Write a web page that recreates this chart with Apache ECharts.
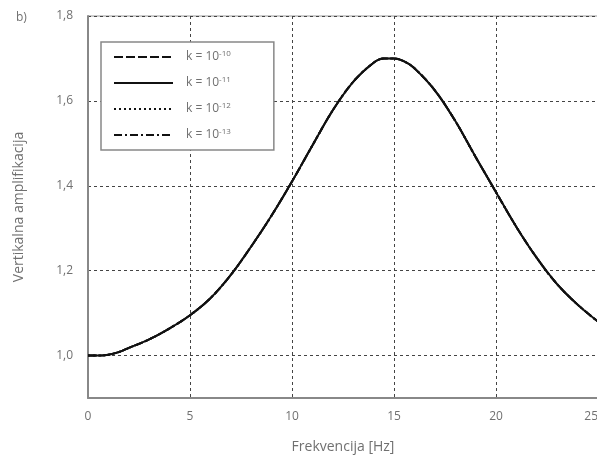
<!DOCTYPE html>
<html>
<head>
<meta charset="utf-8">
<script src="https://cdn.jsdelivr.net/npm/echarts@6/dist/echarts.min.js"></script>
<style>html,body{margin:0;padding:0;background:#fff}#c{width:597px;height:456px}</style>
</head>
<body>
<div id="c"></div>
<script>
// Frequency [Hz]
var freq = [0, 0.5, 1, 1.5, 2, 3, 4, 5, 6, 7, 8, 9, 10, 11, 12, 13, 14, 14.5, 15, 15.5, 16, 17, 18, 19, 20, 21, 22, 23, 24, 25];
// Vertical amplification (the four k curves coincide in the picture)
var amp_k10 = [1.0, 1.0, 1.002, 1.008, 1.018, 1.038, 1.064, 1.095, 1.135, 1.19, 1.257, 1.33, 1.41, 1.495, 1.578, 1.645, 1.69, 1.70, 1.70, 1.693, 1.677, 1.625, 1.553, 1.468, 1.385, 1.303, 1.23, 1.168, 1.12, 1.08];
var amp_k11 = amp_k10.slice();
var amp_k12 = amp_k10.slice();
var amp_k13 = amp_k10.slice();
var seriesNames = ['k = 10-10', 'k = 10-11', 'k = 10-12', 'k = 10-13'];
var exponents = ['-10', '-11', '-12', '-13'];
var xTicks = [0, 5, 10, 15, 20, 25];

function pairs(ys) { return freq.map(function (x, i) { return [x, ys[i]]; }); }

var textColor = '#707070';
var fontFam = '"Open Sans", "Noto Sans", sans-serif';
var styles = [
  { type: [9, 3], z: 2 },
  { type: 'solid', z: 5 },
  { type: [2, 3], z: 3 },
  { type: [8, 3, 2, 3], z: 4 }
];
var ampData = [amp_k10, amp_k11, amp_k12, amp_k13];

var chart = echarts.init(document.getElementById('c'), null, { renderer: 'canvas' });
chart.setOption({
  animation: false,
  backgroundColor: '#fff',
  title: {
    text: 'b)', left: 11, top: 7,
    textStyle: { fontSize: 12, fontWeight: 'normal', color: textColor, fontFamily: fontFam }
  },
  grid: { left: 88, top: 16, width: 510, height: 382, show: true, borderColor: '#999', borderWidth: 1,
    containLabel: false, outerBoundsMode: 'none' },
  legend: {
    orient: 'vertical', left: 101, top: 42,
    padding: [8, 43, 8, 12],
    itemGap: 12, itemWidth: 59, itemHeight: 14,
    borderColor: '#888', borderWidth: 1.5, backgroundColor: '#fff',
    itemStyle: { opacity: 0 },
    data: seriesNames,
    formatter: function (name) {
      var i = seriesNames.indexOf(name);
      return '{n|k = 10}{s|' + exponents[i] + '}';
    },
    textStyle: {
      color: textColor, fontFamily: fontFam, padding: [0, 0, 0, 8],
      rich: {
        n: { fontSize: 12, color: textColor, fontFamily: fontFam, lineHeight: 14 },
        s: { fontSize: 8, color: textColor, fontFamily: fontFam, verticalAlign: 'top', lineHeight: 14, padding: [0, 0, 6, 0] }
      }
    }
  },
  xAxis: {
    type: 'value', min: 0, max: 25, interval: 5,
    name: 'Frekvencija [Hz]', nameLocation: 'middle', nameGap: 42,
    nameTextStyle: { fontSize: 14, color: textColor, fontFamily: fontFam },
    axisLine: { show: true, onZero: false, lineStyle: { color: '#888', width: 2 } },
    axisTick: { show: false },
    axisLabel: { margin: 13, fontSize: 12, color: textColor, fontFamily: fontFam, alignMaxLabel: 'right',
      formatter: function (v) { return xTicks.indexOf(v) >= 0 ? String(v) : ''; } },
    splitLine: { show: true, lineStyle: { color: '#444', width: 1, type: [3, 3] } }
  },
  yAxis: {
    type: 'value', min: 0.9, max: 1.8, splitNumber: 5,
    name: 'Vertikalna amplifikacija', nameLocation: 'middle', nameGap: 62,
    nameTextStyle: { fontSize: 14, color: textColor, fontFamily: fontFam },
    axisLine: { show: true, onZero: false, lineStyle: { color: '#888', width: 2 } },
    axisTick: { show: false },
    axisLabel: { margin: 15, fontSize: 12, color: textColor, fontFamily: fontFam, showMinLabel: false,
      formatter: function (v) { return v.toFixed(1).replace('.', ','); } },
    splitLine: { show: true, lineStyle: { color: '#444', width: 1, type: [3, 3] } }
  },
  series: seriesNames.map(function (nm, i) {
    return {
      name: nm, type: 'line', data: pairs(ampData[i]),
      smooth: 0.35, smoothMonotone: 'none', symbol: 'none', showSymbol: false, z: styles[i].z,
      lineStyle: { color: '#111', width: 2, type: styles[i].type },
      itemStyle: { color: '#111' }
    };
  })
});
</script>
</body>
</html>
